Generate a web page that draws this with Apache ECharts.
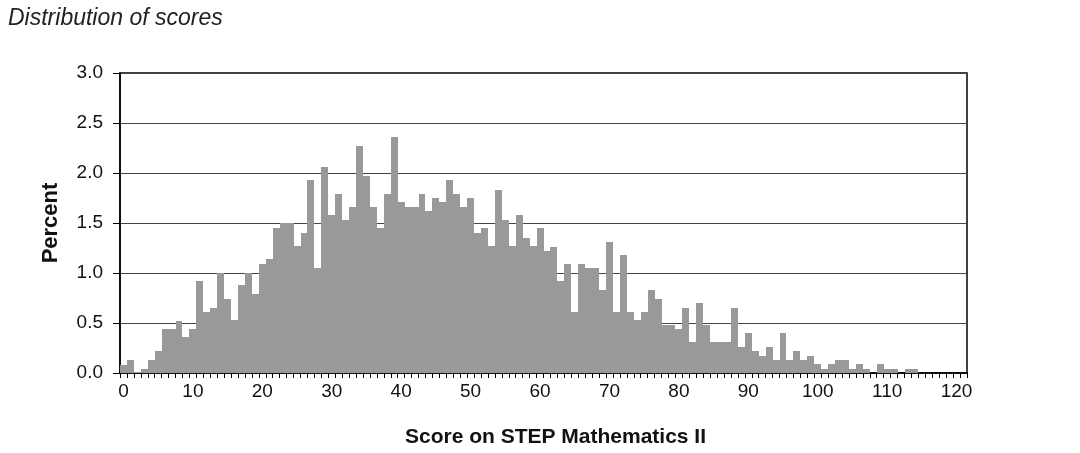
<!DOCTYPE html>
<html>
<head>
<meta charset="utf-8">
<script src="https://cdn.jsdelivr.net/npm/echarts@6/dist/echarts.min.js"></script>
<style>
html,body{margin:0;padding:0;background:#fff;}
#chart{width:1080px;height:453px;}
</style>
</head>
<body>
<div id="chart"></div>
<script>
// Score categories 0..121
var scores = [];
for (var s = 0; s <= 121; s++) scores.push(String(s));

// Percent of candidates for each score
var percent0to40 = [
  0.08, 0.13, 0.01, 0.04, 0.13, 0.22, 0.44, 0.44, 0.52, 0.36,
  0.44, 0.92, 0.61, 0.65, 1.00, 0.74, 0.53, 0.88, 1.00, 0.79,
  1.09, 1.14, 1.45, 1.50, 1.50, 1.27, 1.40, 1.93, 1.05, 2.06,
  1.58, 1.79, 1.53, 1.66, 2.27, 1.97, 1.66, 1.45, 1.79, 2.36
];
var percent40to80 = [
  1.71, 1.66, 1.66, 1.79, 1.62, 1.75, 1.71, 1.93, 1.79, 1.66,
  1.75, 1.40, 1.45, 1.27, 1.83, 1.53, 1.27, 1.58, 1.35, 1.27,
  1.45, 1.22, 1.26, 0.92, 1.09, 0.61, 1.09, 1.05, 1.05, 0.83,
  1.31, 0.61, 1.18, 0.61, 0.53, 0.61, 0.83, 0.74, 0.48, 0.48
];
var percent80to121 = [
  0.44, 0.65, 0.31, 0.70, 0.48, 0.31, 0.31, 0.31, 0.65, 0.26,
  0.40, 0.22, 0.17, 0.26, 0.13, 0.40, 0.13, 0.22, 0.13, 0.17,
  0.09, 0.04, 0.09, 0.13, 0.13, 0.04, 0.09, 0.04, 0.00, 0.09,
  0.04, 0.04, 0.00, 0.04, 0.04, 0.00, 0.00, 0.00, 0.00, 0.00,
  0.00, 0.00
];
var percent = percent0to40.concat(percent40to80, percent80to121);

var yTicks = [0, 0.5, 1.0, 1.5, 2.0, 2.5, 3.0];

var seriesData = percent.map(function (v, i) { return [i, v]; });

var FONT = '"Liberation Sans", Arial, sans-serif';
var chart = echarts.init(document.getElementById('chart'), null, {renderer: 'canvas'});
chart.setOption({
  animation: false,
  backgroundColor: '#fff',
  title: {
    text: 'Distribution of scores',
    left: 3, top: 2,
    textStyle: {fontFamily: FONT, fontSize: 23, fontStyle: 'italic', fontWeight: 'normal', color: '#222'}
  },
  grid: {
    left: 120, right: 113, top: 73, bottom: 80,
    show: true, borderColor: '#000', borderWidth: 1.5, backgroundColor: 'transparent'
  },
  xAxis: {
    type: 'category',
    data: scores,
    boundaryGap: true,
    name: 'Score on STEP Mathematics II',
    nameLocation: 'middle',
    nameGap: 54,
    nameTextStyle: {fontFamily: FONT, fontSize: 21, fontWeight: 'bold', color: '#111', padding: [0, 0, 0, 24]},
    axisLine: {lineStyle: {color: '#000', width: 1.5}},
    axisTick: {show: true, interval: 0, length: 5, lineStyle: {color: '#000', width: 1}},
    axisLabel: {
      interval: function (idx) { return idx % 10 === 0; },
      margin: 9,
      fontFamily: FONT, fontSize: 19, color: '#111'
    },
    splitLine: {show: false}
  },
  yAxis: {
    type: 'value',
    min: yTicks[0], max: yTicks[yTicks.length - 1], interval: 0.5,
    name: 'Percent',
    nameLocation: 'middle',
    nameGap: 58,
    nameRotate: 90,
    nameTextStyle: {fontFamily: FONT, fontSize: 22, fontWeight: 'bold', color: '#111'},
    axisLine: {show: true, lineStyle: {color: '#000', width: 1.5}},
    axisTick: {show: true, inside: false, length: 7, lineStyle: {color: '#000', width: 1}},
    axisLabel: {
      margin: 17,
      formatter: function (v) { return v.toFixed(1); },
      fontFamily: FONT, fontSize: 19, color: '#111'
    },
    splitLine: {show: true, lineStyle: {color: '#444', width: 1.2}}
  },
  series: [{
    type: 'custom',
    data: seriesData,
    encode: {x: 0, y: 1},
    z: 1,
    renderItem: function (params, api) {
      var idx = api.value(0);
      var val = api.value(1);
      var top = api.coord([idx, val]);
      var base = api.coord([idx, 0]);
      var w = api.size([1, 0])[0];
      var x0 = Math.round(top[0] - w / 2);
      var x1 = Math.round(top[0] + w / 2);
      var y0 = Math.round(top[1]);
      var y1 = Math.round(base[1]);
      return {
        type: 'rect',
        shape: {x: x0, y: y0, width: x1 - x0, height: y1 - y0},
        style: {fill: '#999999'}
      };
    }
  }]
});
</script>
</body>
</html>
